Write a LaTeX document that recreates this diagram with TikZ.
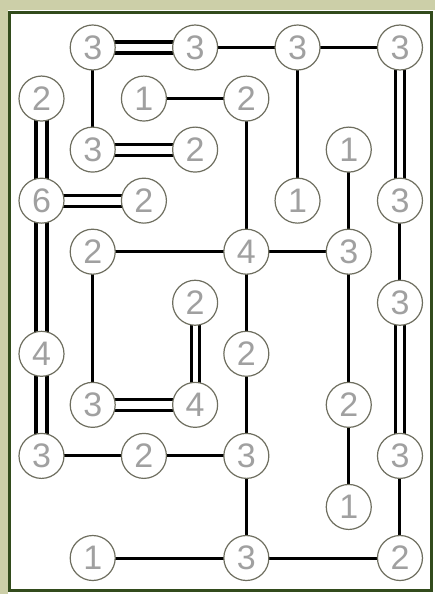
\documentclass[tikz,border=0pt]{standalone}
\usepackage{fontspec}
\setmainfont{Liberation Sans}
\pgfdeclarelayer{back}
\pgfdeclarelayer{edges}
\pgfsetlayers{back,edges,main}
\definecolor{khaki}{RGB}{204,207,168}
\definecolor{framegreen}{RGB}{50,75,28}
\definecolor{ring}{RGB}{110,110,95}
\definecolor{digit}{RGB}{160,160,160}
\tikzset{
 isle/.style={circle, draw=ring, line width=1.2pt, fill=white, minimum size=45pt, inner sep=0pt, text=digit, font=\fontsize{34}{34}\selectfont},
 one/.style={line width=3pt, draw=black},
 twowide/.style={line width=3.2pt, draw=black, double=white, double distance=7.8pt},
 twonarrow/.style={line width=3pt, draw=black, double=white, double distance=5.2pt},
}
\begin{document}
\begin{tikzpicture}[x=1pt,y=-1pt]
\useasboundingbox (0,0) rectangle (435,594);
\begin{pgfonlayer}{back}
\fill[white] (0,0) rectangle (435,594);
\fill[khaki] (0,0) rectangle (435,10);
\fill[khaki] (0,0) rectangle (8,594);
\draw[framegreen, line width=3pt] (9.5,12.5) rectangle (431.5,590.5);
\end{pgfonlayer}
\foreach \c/\r/\v in {1/0/3, 3/0/3, 5/0/3, 7/0/3,
  0/1/2, 2/1/1, 4/1/2,
  1/2/3, 3/2/2, 6/2/1,
  0/3/6, 2/3/2, 5/3/1, 7/3/3,
  1/4/2, 4/4/4, 6/4/3,
  3/5/2, 7/5/3,
  0/6/4, 4/6/2,
  1/7/3, 3/7/4, 6/7/2,
  0/8/3, 2/8/2, 4/8/3, 7/8/3,
  6/9/1,
  1/10/1, 4/10/3, 7/10/2}
  \node[isle] (n\c-\r) at ({41.5+51.21*\c},{47.5+51.05*\r}) {\v};
\begin{pgfonlayer}{edges}
\foreach \a/\b in {1-0/3-0, 1-2/3-2, 0-1/0-3, 0-3/2-3, 1-7/3-7, 0-3/0-6, 0-6/0-8}
  \draw[twowide] (n\a.center) -- (n\b.center);
\foreach \a/\b in {7-0/7-3, 3-5/3-7, 7-5/7-8}
  \draw[twonarrow] (n\a.center) -- (n\b.center);
\foreach \a/\b in {3-0/5-0, 5-0/7-0, 1-0/1-2, 2-1/4-1, 5-0/5-3, 6-2/6-4, 4-1/4-4, 1-4/4-4, 4-4/6-4, 1-4/1-7, 7-3/7-5, 4-4/4-6, 4-6/4-8, 6-4/6-7, 0-8/2-8, 2-8/4-8, 6-7/6-9, 4-8/4-10, 7-8/7-10, 1-10/4-10, 4-10/7-10}
  \draw[one] (n\a.center) -- (n\b.center);
\end{pgfonlayer}
\end{tikzpicture}
\end{document}
